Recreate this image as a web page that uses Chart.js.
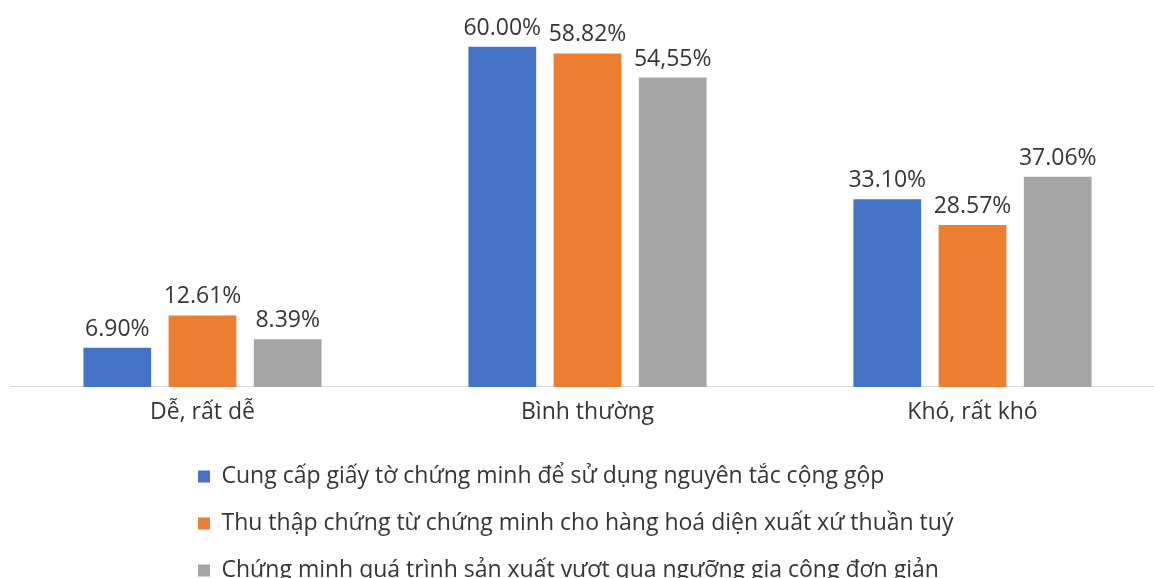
<!DOCTYPE html>
<html>
<head>
<meta charset="utf-8">
<script src="https://cdn.jsdelivr.net/npm/chart.js@4.4.1/dist/chart.umd.min.js"></script>
<style>
  body { margin: 0; background: #fff; overflow: hidden; }
  #wrap { width: 1166px; height: 600px; }
</style>
</head>
<body>
<div id="wrap"><canvas id="chart" width="1166" height="600"></canvas></div>
<script>
// categories and series (percent)
const categories = ["Dễ, rất dễ", "Bình thường", "Khó, rất khó"];
const seriesNames = [
  "Cung cấp giấy tờ chứng minh để sử dụng nguyên tắc cộng gộp",
  "Thu thập chứng từ chứng minh cho hàng hoá diện xuất xứ thuần tuý",
  "Chứng minh quá trình sản xuất vượt qua ngưỡng gia công đơn giản"
];
const proofDocs = [6.90, 60.00, 33.10];
const whollyObtained = [12.61, 58.82, 28.57];
const processing = [8.39, 54.55, 37.06];
// label texts as printed on the original (one uses a comma)
const proofDocsLabels = ["6.90%", "60.00%", "33.10%"];
const whollyObtainedLabels = ["12.61%", "58.82%", "28.57%"];
const processingLabels = ["8.39%", "54,55%", "37.06%"];

const colors = ["#4472C4", "#ED7D31", "#A5A5A5"];
const textColor = "#363636";
const fontFamily = "'Open Sans', sans-serif";

// draws the value above each bar
const barLabels = {
  id: "barLabels",
  afterDatasetsDraw(chart) {
    const ctx = chart.ctx;
    ctx.save();
    ctx.font = "23px " + fontFamily;
    ctx.fillStyle = textColor;
    ctx.textAlign = "center";
    ctx.textBaseline = "alphabetic";
    chart.data.datasets.forEach((ds, i) => {
      chart.getDatasetMeta(i).data.forEach((bar, j) => {
        ctx.fillText(ds.valueLabels[j], bar.x, bar.y - 12);
      });
    });
    ctx.restore();
  }
};

// legend sits left-aligned under the middle of the chart
const legendPlace = {
  id: "legendPlace",
  afterLayout(chart) {
    chart.legend.left = 174;
    chart.legend.top = 441;
  }
};

const ctx = document.getElementById("chart").getContext("2d");
const chart = new Chart(ctx, {
  type: "bar",
  data: {
    labels: categories,
    datasets: [
      { label: seriesNames[0], data: proofDocs, valueLabels: proofDocsLabels, backgroundColor: colors[0] },
      { label: seriesNames[1], data: whollyObtained, valueLabels: whollyObtainedLabels, backgroundColor: colors[1] },
      { label: seriesNames[2], data: processing, valueLabels: processingLabels, backgroundColor: colors[2] }
    ]
  },
  options: {
    responsive: false,
    animation: false,
    categoryPercentage: 0.664,
    barPercentage: 0.795,
    layout: { padding: { top: 7, left: 10, right: 1, bottom: 10.5 } },
    scales: {
      x: {
        grid: { display: false, drawTicks: false },
        border: { display: true, color: "#D9D9D9", width: 1 },
        ticks: { color: textColor, padding: 12, font: { size: 23, family: fontFamily } }
      },
      y: { display: false, min: 0, max: 67 }
    },
    plugins: {
      legend: {
        position: "bottom",
        align: "start",
        labels: {
          boxWidth: 12,
          boxHeight: 12,
          padding: 24,
          color: textColor,
          font: { size: 23, family: fontFamily }
        }
      },
      tooltip: { enabled: false }
    }
  },
  plugins: [barLabels, legendPlace]
});
</script>
</body>
</html>
